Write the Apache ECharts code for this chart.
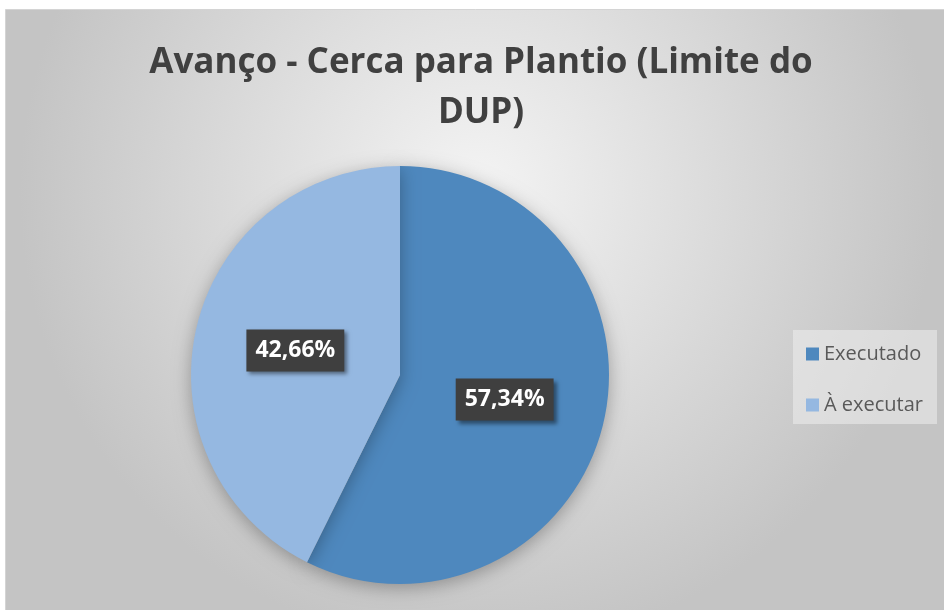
<!DOCTYPE html>
<html>
<head>
<meta charset="utf-8">
<script src="https://cdn.jsdelivr.net/npm/echarts@6/dist/echarts.min.js"></script>
<style>
  html, body { margin: 0; padding: 0; background: #fff; }
  #main { width: 944px; height: 610px; }
</style>
</head>
<body>
<div id="main"></div>
<script>
// dados do gráfico
var categorias = ['Executado', 'À executar']
var percentuais = [57.34, 42.66]
var cores = ['#4e88be', '#95b8e1']

var chart = echarts.init(document.getElementById('main'))

var option = {
  animation: false,
  graphic: [
    {
      type: 'rect',
      z: -10,
      silent: true,
      shape: { x: 5.5, y: 9.5, width: 944, height: 610 },
      style: {
        fill: new echarts.graphic.RadialGradient(0.5, 0.3, 0.75, [
          { offset: 0, color: '#f4f4f4' },
          { offset: 1, color: '#c4c4c4' }
        ]),
        stroke: '#d4d4d4',
        lineWidth: 1
      }
    }
  ],
  title: {
    text: 'Avanço - Cerca para Plantio (Limite do\nDUP)',
    left: 476,
    top: 33,
    textAlign: 'center',
    textStyle: {
      fontFamily: 'Open Sans',
      fontWeight: 'bold',
      fontSize: 35,
      lineHeight: 50,
      color: '#404040'
    }
  },
  legend: {
    orient: 'vertical',
    left: 793,
    top: 330,
    itemWidth: 13,
    itemHeight: 13,
    itemGap: 31,
    icon: 'rect',
    backgroundColor: 'rgba(238,238,238,0.55)',
    padding: [14, 14, 9, 13],
    textStyle: {
      fontFamily: 'Open Sans',
      fontSize: 20,
      lineHeight: 20,
      color: '#595959'
    },
    data: categorias
  },
  series: [
    {
      type: 'pie',
      center: [400, 375],
      radius: 209,
      startAngle: 90,
      clockwise: true,
      color: cores,
      itemStyle: {
        shadowBlur: 18,
        shadowOffsetY: 4,
        shadowColor: 'rgba(0,0,0,0.3)'
      },
      label: {
        show: true,
        position: 'inside',
        formatter: function (p) {
          return p.value.toFixed(2).replace('.', ',') + '%'
        },
        fontFamily: 'Open Sans',
        fontWeight: 'bold',
        fontSize: 23,
        color: '#fff',
        backgroundColor: '#3f3f3f',
        padding: [10, 9, 9, 9],
        shadowBlur: 4,
        shadowOffsetX: 3,
        shadowOffsetY: 3,
        shadowColor: 'rgba(0,0,0,0.45)'
      },
      labelLine: { show: false },
      emphasis: { disabled: true },
      data: categorias.map(function (c, i) {
        return { name: c, value: percentuais[i] }
      })
    }
  ]
}

chart.setOption(option)
</script>
</body>
</html>
